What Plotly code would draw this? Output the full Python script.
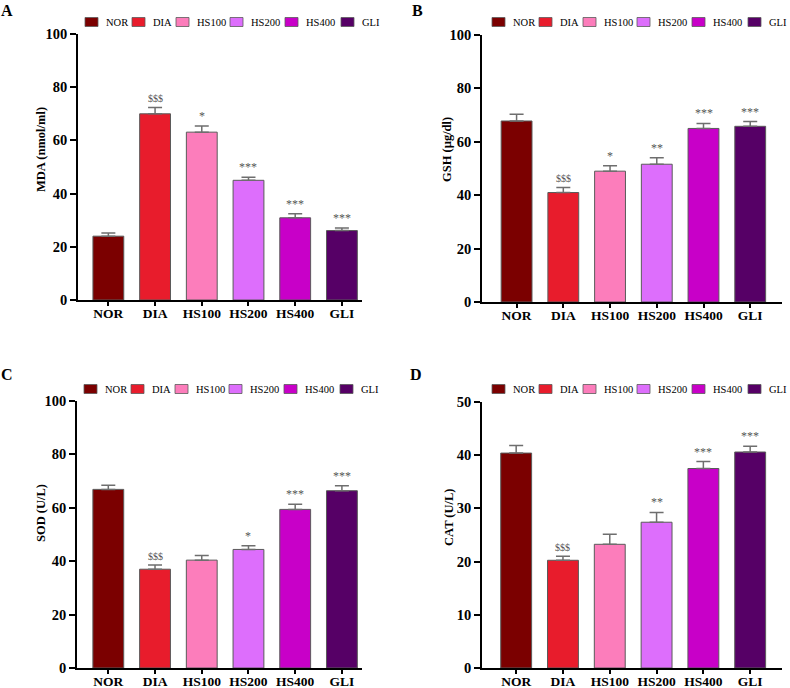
import plotly.graph_objects as go

W, H = 790, 688

groups = ["NOR", "DIA", "HS100", "HS200", "HS400", "GLI"]
bar_colors = ["#7B0000", "#E81C2C", "#FC7DBB", "#DD6EFC", "#C800C8", "#560066"]

# means and upper error (SEM)
mda = [24.0, 70.0, 63.1, 45.0, 30.9, 26.1]
mda_err = [1.2, 2.4, 2.3, 1.1, 1.5, 1.0]
gsh = [67.8, 41.0, 49.0, 51.6, 65.0, 65.8]
gsh_err = [2.5, 1.9, 2.0, 2.4, 1.9, 1.8]
sod = [66.9, 37.0, 40.4, 44.4, 59.4, 66.4]
sod_err = [1.5, 1.6, 1.7, 1.4, 1.9, 1.9]
cat = [40.4, 20.25, 23.25, 27.4, 37.5, 40.6]
cat_err = [1.4, 0.75, 1.9, 1.85, 1.3, 1.1]

mda_sig = ["", "$$$", "*", "***", "***", "***"]
gsh_sig = ["", "$$$", "*", "**", "***", "***"]
sod_sig = ["", "$$$", "", "*", "***", "***"]
cat_sig = ["", "$$$", "", "**", "***", "***"]

SERIF = "Liberation Serif"


def px(x):
    return x / W


def py(y):
    return 1 - y / H


# panel: letter, values, errors, sig, y title, ymax, dtick,
#        axis box in pixels (left, right, top, bottom), x range,
#        legend origin (x, y), letter pos, y-title centre
panels = [
    ("A", mda, mda_err, mda_sig, "MDA (nmol/ml)", 100, 20,
     (78, 362, 34, 300), [-0.65, 5.43], (85, 22), (7, 10), (41, 150)),
    ("B", gsh, gsh_err, gsh_sig, "GSH (µg/dl)", 100, 20,
     (482, 782, 35, 302), [-0.74, 5.68], (492, 22), (417, 10), (447, 150)),
    ("C", sod, sod_err, sod_sig, "SOD (U/L)", 100, 20,
     (77, 362, 401, 668), [-0.67, 5.43], (84, 389), (7, 374), (41, 513)),
    ("D", cat, cat_err, cat_sig, "CAT (U/L)", 50, 10,
     (482, 782, 402, 668), [-0.73, 5.68], (492, 389), (416, 374), (449, 517)),
]

legend_offsets = [0, 47, 91, 145, 200, 256]

fig = go.Figure()
shapes = []
annotations = []

for i, (letter, vals, errs, sig, ytitle, ymax, dtick, box, xr, lg, lp, tp) in enumerate(panels):
    n = "" if i == 0 else str(i + 1)
    xa, ya = "x" + n, "y" + n
    left, right, top, bottom = box

    fig.add_trace(go.Bar(
        x=groups, y=vals,
        width=0.66,
        marker=dict(color=bar_colors, line=dict(color="#5a5a5a", width=1)),
        error_y=dict(type="data", array=errs, arrayminus=[0] * len(errs),
                     symmetric=False, color="#6e6e6e", thickness=1.5, width=7),
        xaxis=xa, yaxis=ya, showlegend=False, hoverinfo="skip",
    ))

    fig.layout["xaxis" + n] = dict(
        domain=[px(left), px(right)], anchor=ya, range=xr,
        showline=True, linecolor="black", linewidth=1.5,
        ticks="outside", ticklen=4, tickwidth=1.5, tickcolor="black",
        ticklabelstandoff=-4,
        showgrid=False, zeroline=False, automargin=False,
        tickfont=dict(family=SERIF, size=13.5, color="black", weight="bold"),
    )
    fig.layout["yaxis" + n] = dict(
        domain=[py(bottom), py(top)], anchor=xa, range=[0, ymax], dtick=dtick,
        showline=True, linecolor="black", linewidth=1.5,
        ticks="outside", ticklen=6, tickwidth=1.5, tickcolor="black",
        showgrid=False, zeroline=False, automargin=False,
        tickfont=dict(family=SERIF, size=14.5, color="black", weight="bold"),
    )

    # y title sits above the axis centre in the original, so place it by hand
    annotations.append(dict(
        x=px(tp[0]), y=py(tp[1]), xref="paper", yref="paper", text=ytitle,
        textangle=-90, showarrow=False, xanchor="center", yanchor="middle",
        font=dict(family=SERIF, size=12.5, color="black", weight="bold"),
    ))

    for g, v, e, s in zip(groups, vals, errs, sig):
        if not s:
            continue
        annotations.append(dict(
            x=g, y=v + e, xref=xa, yref=ya, text=s, showarrow=False,
            yanchor="bottom", yshift=1,
            font=dict(family=SERIF, size=10 if s.startswith("$") else 12, color="#555555"),
        ))

    # legend row above each panel
    lx, ly = lg
    for off, g, c in zip(legend_offsets, groups, bar_colors):
        shapes.append(dict(
            type="rect", xref="paper", yref="paper",
            x0=px(lx + off), x1=px(lx + off + 13), y0=py(ly + 4.5), y1=py(ly - 4.5),
            fillcolor=c, line=dict(color="#5a5a5a", width=0.8),
        ))
        annotations.append(dict(
            x=px(lx + off + 19), y=py(ly), xref="paper", yref="paper",
            text=g, showarrow=False, xanchor="left", yanchor="middle",
            font=dict(family=SERIF, size=10.5, color="black"),
        ))

    annotations.append(dict(
        x=px(lp[0]), y=py(lp[1]), xref="paper", yref="paper", text=letter,
        showarrow=False, xanchor="center", yanchor="middle",
        font=dict(family=SERIF, size=16, color="black", weight="bold"),
    ))

fig.update_layout(
    width=W, height=H,
    margin=dict(l=0, r=0, t=0, b=0, autoexpand=False),
    paper_bgcolor="white", plot_bgcolor="white",
    barmode="overlay",
    shapes=shapes, annotations=annotations,
    font=dict(family=SERIF, color="black"),
)

# drop the page's default body margin so the figure sits at the window origin
fig.write_html("out.html", config={"displayModeBar": False},
               post_script="document.body.style.margin='0px';")
